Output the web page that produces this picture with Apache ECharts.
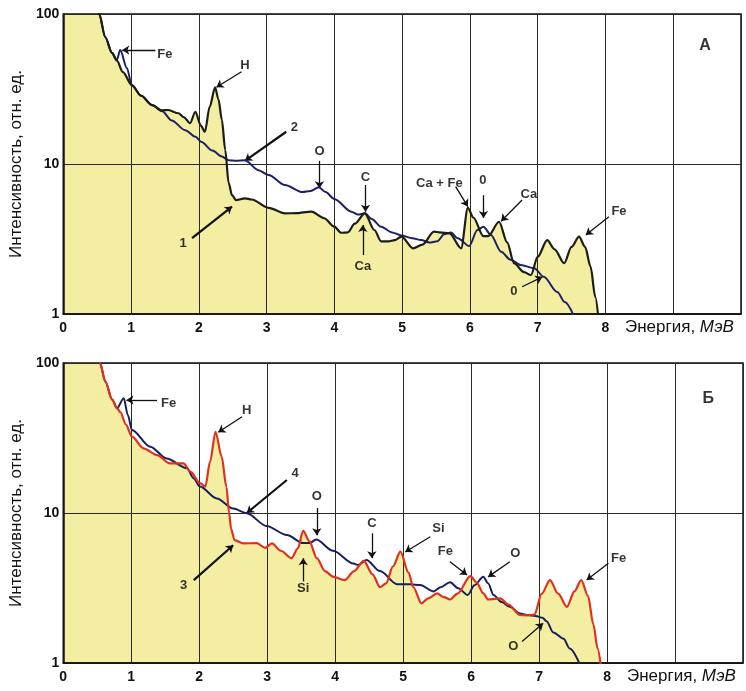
<!DOCTYPE html>
<html>
<head>
<meta charset="utf-8">
<script src="https://cdn.jsdelivr.net/npm/echarts@6/dist/echarts.min.js"></script>
<style>
html,body{margin:0;padding:0;background:#fff;}
#chart{width:746px;height:691px;}
</style>
</head>
<body>
<div id="chart"></div>
<script>
// ---------- DATA (Energy in MeV, intensity in rel. units) ----------
// Panel A, curve 1 (sample, filled)
const curve1 = [[0.0,3000],[0.15,1000],[0.30,400],[0.45,140],[0.53,100],[0.62,70],[0.72,55],[0.79,49],[0.88,41],[1.01,33.6],[1.15,28.5],[1.31,24.7],[1.45,22.8],[1.55,22.9],[1.70,21.8],[1.78,20.5],[1.87,18.7],[1.95,22.3],[2.03,18],[2.09,16.4],[2.16,24],[2.24,32.4],[2.29,27],[2.34,19.7],[2.39,12.4],[2.44,7.5],[2.49,6.2],[2.55,5.75],[2.68,5.9],[2.78,5.8],[3.03,5.1],[3.27,4.69],[3.45,4.7],[3.57,4.78],[3.66,4.81],[3.85,4.35],[4.0,3.82],[4.10,3.48],[4.20,3.5],[4.30,4.0],[4.45,4.69],[4.59,3.63],[4.69,3.05],[4.80,3.05],[4.89,3.11],[4.99,3.28],[5.16,2.74],[5.30,2.9],[5.47,3.54],[5.55,3.5],[5.70,3.45],[5.87,2.74],[5.97,5.1],[6.05,4.4],[6.20,3.3],[6.27,3.3],[6.43,4.12],[6.55,3.0],[6.65,2.18],[6.80,1.9],[6.90,1.82],[7.00,2.4],[7.14,3.11],[7.25,2.7],[7.39,2.18],[7.50,2.8],[7.61,3.28],[7.70,2.8],[7.78,2.07],[7.85,1.3],[7.90,0.9]];
// Panel A, curve 2 (reference)
const curve2 = [[0.0,3000],[0.15,1000],[0.30,400],[0.45,140],[0.53,100],[0.62,70],[0.72,55],[0.79,49.3],[0.84,57.5],[0.94,43.5],[1.01,33.6],[1.15,28.5],[1.31,24.7],[1.46,22.5],[1.60,19.5],[1.80,16.8],[1.95,15.2],[2.04,14.0],[2.20,12.3],[2.34,11.2],[2.44,10.6],[2.55,10.5],[2.68,10.6],[2.88,9.1],[3.03,8.45],[3.27,7.24],[3.53,6.5],[3.65,6.6],[3.77,7.0],[3.87,6.5],[4.0,5.85],[4.25,4.81],[4.35,4.6],[4.45,4.69],[4.55,4.3],[4.69,3.82],[4.85,3.5],[4.99,3.34],[5.15,3.2],[5.28,3.11],[5.40,3.0],[5.52,3.05],[5.62,3.4],[5.72,3.5],[5.82,3.2],[5.99,2.84],[6.11,3.63],[6.20,3.82],[6.31,3.36],[6.46,2.6],[6.60,2.3],[6.75,2.12],[6.95,2.02],[7.09,1.77],[7.29,1.4],[7.40,1.2],[7.53,0.98]];
// Panel B, curve 3 (sample, filled, red)
const curve3 = [[0.0,3000],[0.15,1000],[0.30,400],[0.45,140],[0.54,100],[0.62,75],[0.72,57],[0.79,50],[0.84,47],[0.92,39],[1.01,32.3],[1.18,27],[1.38,24.3],[1.57,21.4],[1.77,21.4],[1.87,18.9],[2.01,15.8],[2.09,15],[2.16,22],[2.24,34.8],[2.33,23.8],[2.40,15],[2.44,10],[2.47,7.8],[2.52,6.6],[2.65,6.27],[2.85,6.3],[2.97,5.85],[3.07,6.27],[3.20,5.6],[3.36,5.0],[3.45,5.8],[3.53,7.6],[3.62,6.5],[3.73,5.0],[3.85,4.1],[3.97,3.76],[4.14,3.57],[4.28,4.1],[4.42,4.8],[4.55,3.9],[4.66,3.2],[4.75,3.4],[4.85,4.4],[4.96,5.52],[5.08,4.0],[5.15,3.2],[5.27,2.5],[5.37,2.7],[5.50,2.91],[5.60,2.75],[5.69,2.65],[5.80,2.9],[5.99,3.8],[6.08,3.45],[6.18,2.91],[6.25,2.65],[6.43,2.7],[6.55,2.45],[6.72,2.09],[6.82,2.08],[6.93,2.1],[7.04,2.9],[7.16,3.57],[7.28,2.9],[7.41,2.37],[7.52,3.0],[7.62,3.57],[7.72,2.8],[7.80,1.8],[7.86,1.25],[7.91,0.95]];
// Panel B, curve 4 (reference, navy)
const curve4 = [[0.0,3000],[0.15,1000],[0.30,400],[0.45,140],[0.54,100],[0.62,75],[0.72,57],[0.79,49.9],[0.89,58.2],[0.95,45],[1.01,35.8],[1.28,27.7],[1.52,23.1],[1.82,19.9],[1.92,17],[2.01,15],[2.26,12.5],[2.50,10.7],[2.70,9.95],[2.99,8.2],[3.29,7.13],[3.53,6.3],[3.62,6.3],[3.72,6.65],[3.97,5.6],[4.27,4.6],[4.34,4.5],[4.46,4.86],[4.66,4.1],[4.91,3.35],[5.10,3.35],[5.25,3.31],[5.45,3.0],[5.55,3.2],[5.69,3.45],[5.81,3.15],[5.95,2.84],[6.05,3.3],[6.18,3.76],[6.25,3.4],[6.33,2.84],[6.45,2.55],[6.57,2.37],[6.72,2.14],[6.82,2.09],[6.95,2.06],[7.05,2.0],[7.11,1.9],[7.21,1.6],[7.36,1.45],[7.45,1.25],[7.60,0.98]];

// Annotation texts: [text, E, I]
const labelsA = [["Fe",1.50,54],["H",2.68,45.7],["2",3.41,17.6],["1",1.77,2.96],["O",3.78,12.1],["C",4.46,8.2],["Ca",4.42,2.07],["Ca + Fe",5.55,7.43],["0",6.19,7.82],["Ca",6.87,6.28],["Fe",8.20,4.81],["0",6.65,1.41],["А",9.47,62]];
// Arrows: [E_from, I_from, E_to, I_to]
const arrowsA = [[1.36,57.5,0.87,57.5],[2.63,41.2,2.26,32.5],[3.29,16.4,2.68,10.5],[1.90,3.2,2.49,5.2],[3.78,10.5,3.78,6.9],[4.46,7.24,4.46,4.8],[4.42,2.47,4.42,3.92],[5.79,7.06,5.97,5.2],[6.20,6.2,6.20,4.37],[6.77,5.75,6.46,4.15],[8.05,4.45,7.71,3.36],[6.77,1.52,7.07,1.77]];
const labelsB = [["Fe",1.55,53.8],["H",2.70,48.6],["4",3.41,18.4],["3",1.77,3.31],["O",3.73,12.8],["Si",3.53,3.15],["C",4.54,8.5],["Si",5.52,7.9],["Fe",5.62,5.52],["O",6.65,5.38],["Fe",8.17,4.99],["O",6.62,1.28],["Б",9.49,58]];
const arrowsB = [[1.38,56.7,0.93,56.7],[2.63,43.8,2.28,34.5],[3.29,16.6,2.70,10.0],[1.92,3.57,2.50,6.1],[3.73,10.8,3.73,7.1],[3.53,3.5,3.53,5.0],[4.54,7.33,4.54,5.0],[5.40,6.95,5.03,5.5],[5.69,4.73,5.94,3.86],[6.57,4.73,6.25,3.75],[8.02,4.62,7.70,3.57],[6.75,1.39,7.06,1.84]];

const xLabelMax = 8;
const yAxisName = "Интенсивность, отн. ед.";
const xNameA = "Энергия, ";
const xNameB = "МэВ";
const panelLetters = ["А","Б"];

// ---------- CHART ----------
const FONT = "'Liberation Sans', Arial, sans-serif";
const chart = echarts.init(document.getElementById('chart'), null, {renderer:'canvas'});

function xAxisFor(i){
  return {
    gridIndex:i, type:'value', min:0, max:10, interval:1, z:3,
    axisLine:{show:true, lineStyle:{color:'#111', width:1.5}},
    axisTick:{show:false},
    splitLine:{show:true, lineStyle:{color:'#2a2a2a', width:1}},
    axisLabel:{color:'#111', fontFamily:FONT, fontWeight:'bold', fontSize:14, margin:7,
      formatter:v => v <= xLabelMax ? String(v) : ''},
    name:'{a|'+xNameA+'}{b|'+xNameB+'}', nameLocation:'end', nameGap:-116,
    nameTextStyle:{align:'left', verticalAlign:'top', padding:[5,0,0,0],
      rich:{a:{fontFamily:FONT, fontSize:17, color:'#111'}, b:{fontFamily:FONT, fontSize:17, fontStyle:'italic', color:'#111'}}}
  };
}
function yAxisFor(i){
  return {
    gridIndex:i, type:'log', logBase:10, min:1, max:100, z:3,
    axisLine:{show:true, lineStyle:{color:'#111', width:1.5}},
    axisTick:{show:false},
    minorSplitLine:{show:false},
    splitLine:{show:true, lineStyle:{color:'#2a2a2a', width:1}},
    axisLabel:{color:'#111', fontFamily:FONT, fontWeight:'bold', fontSize:14, margin:4},
    name:yAxisName, nameLocation:'middle', nameRotate:90, nameGap:26,
    nameTextStyle:{fontFamily:FONT, fontSize:17, color:'#111'}
  };
}

function panelSeries(i, fillCurve, otherCurve, fillLineColor, otherColor, labels, arrows){
  const common = {xAxisIndex:i, yAxisIndex:i, showSymbol:false, symbol:'none', smooth:0.3, smoothMonotone:'x', animation:false, silent:true, clip:true};
  const arrowLines = arrows.map(a => [{coord:[a[0],a[1]]},{coord:[a[2],a[3]]}]);
  // thicker arrows for the curve-number pointers (arrows 2 and 3 of each panel)
  arrowLines[2][0].lineStyle = {width:2.2};
  arrowLines[3][0].lineStyle = {width:2.2};
  return [
    Object.assign({type:'line', data:fillCurve, z:1, lineStyle:{width:0, opacity:0},
      areaStyle:{color:'#f4eea2', opacity:1}}, common),
    Object.assign({type:'line', data:otherCurve, z:5, lineStyle:{color:otherColor, width:2}}, common),
    Object.assign({type:'line', data:fillCurve, z:6, lineStyle:{color:fillLineColor, width:2.2}}, common),
    {
      type:'scatter', xAxisIndex:i, yAxisIndex:i, z:8, symbolSize:0, silent:true, animation:false,
      data:labels.map(l => {
        const big = panelLetters.indexOf(l[0]) >= 0;
        return {name:l[0], value:[l[1], l[2]], label:{fontSize: big ? 16 : 13}};
      }),
      label:{show:true, position:'inside', formatter:p => p.name, color:'#000', fontFamily:FONT, fontSize:13, fontWeight:'bold'},
      markLine:{
        silent:true, animation:false, symbol:['none','arrow'], symbolSize:7,
        lineStyle:{color:'#111', width:1.3, type:'solid'},
        label:{show:false},
        data:arrowLines
      }
    }
  ];
}

const option = {
  backgroundColor:'#ffffff',
  animation:false,
  grid:[
    {left:61, top:14, width:680, height:300, show:true, borderColor:'#111', borderWidth:1.5, backgroundColor:'transparent', z:3},
    {left:63, top:363, width:680, height:300, show:true, borderColor:'#111', borderWidth:1.5, backgroundColor:'transparent', z:3}
  ],
  xAxis:[xAxisFor(0), xAxisFor(1)],
  yAxis:[yAxisFor(0), yAxisFor(1)],
  series:[].concat(
    panelSeries(0, curve1, curve2, '#1a1f14', '#1c2066', labelsA, arrowsA),
    panelSeries(1, curve3, curve4, '#e0301e', '#17205e', labelsB, arrowsB)
  )
};
chart.setOption(option);
</script>
</body>
</html>
